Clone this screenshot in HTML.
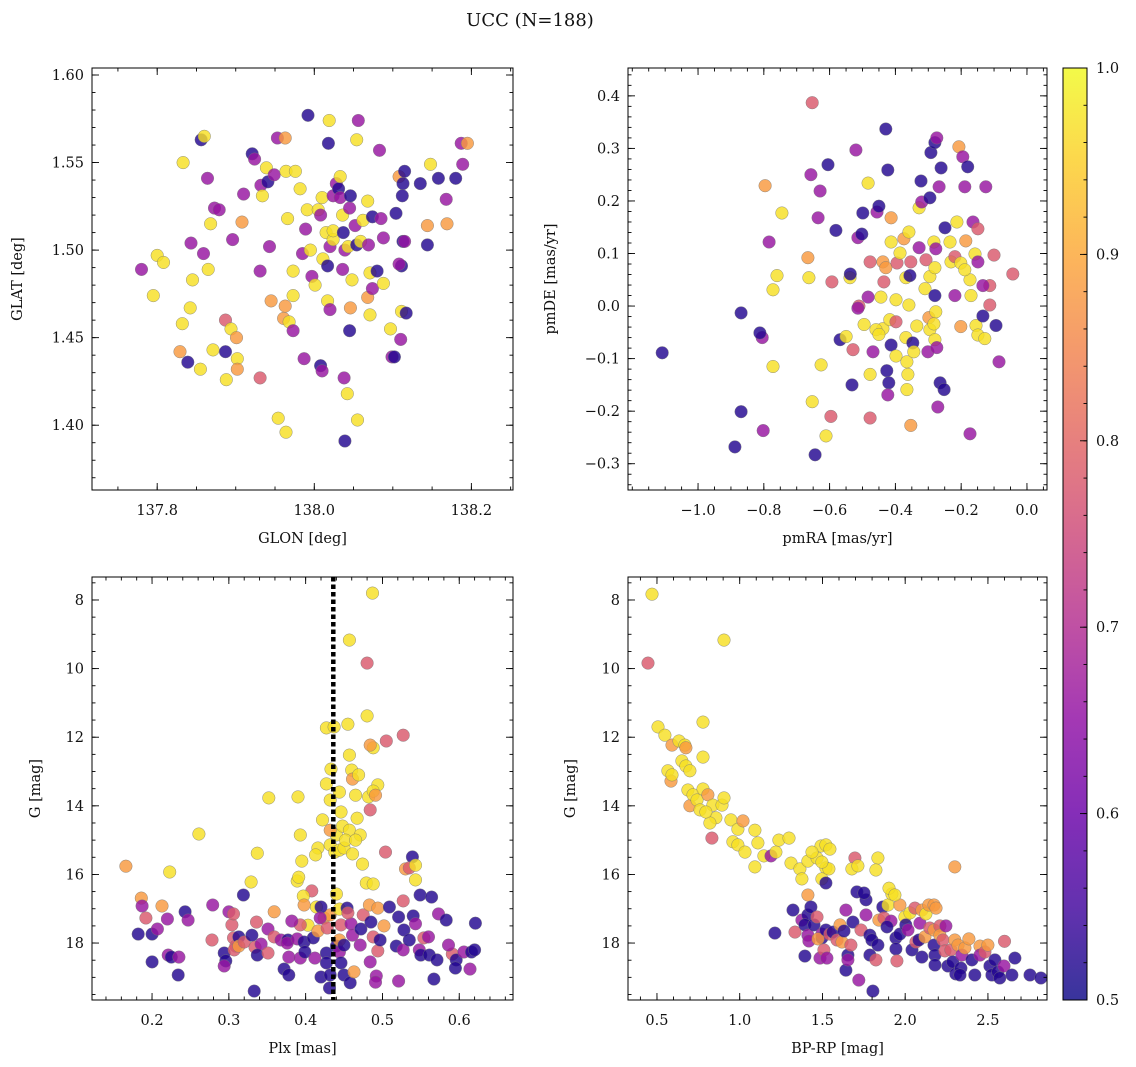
<!DOCTYPE html>
<html><head><meta charset="utf-8"><title>UCC (N=188)</title>
<style>
html,body{margin:0;padding:0;background:#fff;}
svg{display:block;font-family:"DejaVu Serif","Liberation Serif",serif;}
</style></head>
<body>
<svg id="fig" width="1136" height="1067" viewBox="0 0 1136 1067" xmlns="http://www.w3.org/2000/svg">
<text x="530" y="26" font-size="18" text-anchor="middle" fill="#111">UCC (N=188)</text>
</svg>
<script>
const b=0.52,m=0.66,s=0.78,o=0.88,y=0.97;
// Panel 1: [GLON, GLAT, prob]
const posPoints=[[137.780,1.489,m],[137.800,1.497,y],[137.808,1.493,y],[137.795,1.474,y],[137.833,1.550,y],[137.856,1.563,b],[137.860,1.565,y],[137.864,1.541,m],[137.843,1.504,m],[137.859,1.498,m],[137.865,1.489,y],[137.868,1.515,y],[137.873,1.524,m],[137.879,1.523,m],[137.845,1.483,y],[137.842,1.467,y],[137.832,1.458,y],[137.829,1.442,o],[137.839,1.436,b],[137.855,1.432,y],[137.871,1.443,y],[137.887,1.442,b],[137.888,1.426,y],[137.887,1.460,s],[137.894,1.455,y],[137.901,1.450,o],[137.902,1.438,y],[137.902,1.432,o],[137.896,1.506,m],[137.908,1.516,o],[137.910,1.532,m],[137.921,1.555,b],[137.924,1.552,m],[137.932,1.537,m],[137.934,1.531,y],[137.939,1.547,y],[137.941,1.539,b],[137.931,1.488,m],[137.943,1.502,m],[137.945,1.471,o],[137.931,1.427,s],[137.953,1.564,m],[137.963,1.564,o],[137.954,1.404,y],[137.964,1.396,y],[137.949,1.543,m],[137.964,1.545,y],[137.976,1.545,y],[137.966,1.518,y],[137.973,1.488,y],[137.973,1.474,y],[137.963,1.468,o],[137.961,1.461,o],[137.968,1.459,y],[137.973,1.454,m],[137.982,1.535,y],[137.985,1.498,m],[137.987,1.438,m],[137.992,1.577,b],[137.991,1.523,y],[137.989,1.512,m],[137.995,1.500,y],[137.997,1.485,m],[138.001,1.480,y],[138.005,1.523,y],[138.008,1.520,m],[138.010,1.530,y],[138.011,1.495,y],[138.008,1.434,b],[138.010,1.431,m],[138.015,1.510,y],[138.020,1.502,m],[138.019,1.574,y],[138.018,1.561,b],[138.024,1.506,y],[138.024,1.511,y],[138.017,1.491,b],[138.017,1.471,y],[138.020,1.466,m],[138.024,1.531,m],[138.028,1.538,m],[138.031,1.535,b],[138.033,1.542,y],[138.033,1.530,m],[138.037,1.510,b],[138.036,1.520,y],[138.039,1.500,m],[138.045,1.524,m],[138.046,1.531,b],[138.036,1.489,m],[138.043,1.502,y],[138.045,1.454,b],[138.046,1.467,o],[138.048,1.483,y],[138.054,1.503,b],[138.054,1.563,y],[138.056,1.574,m],[138.052,1.514,m],[138.059,1.505,y],[138.062,1.517,y],[138.068,1.528,y],[138.074,1.519,b],[138.069,1.503,m],[138.068,1.473,o],[138.071,1.463,y],[138.071,1.487,y],[138.074,1.478,m],[138.038,1.427,m],[138.042,1.418,y],[138.039,1.391,b],[138.055,1.403,y],[138.083,1.557,m],[138.085,1.518,m],[138.088,1.507,m],[138.080,1.488,b],[138.088,1.481,y],[138.097,1.455,y],[138.099,1.439,m],[138.102,1.439,b],[138.104,1.521,b],[138.108,1.542,o],[138.111,1.491,b],[138.113,1.505,b],[138.111,1.465,y],[138.110,1.449,m],[138.108,1.492,m],[138.113,1.538,b],[138.115,1.545,b],[138.112,1.531,b],[138.115,1.505,m],[138.117,1.464,b],[138.135,1.538,b],[138.144,1.514,o],[138.148,1.549,y],[138.158,1.541,b],[138.168,1.529,m],[138.169,1.515,o],[138.180,1.541,b],[138.187,1.561,m],[138.195,1.561,o],[138.144,1.503,b],[138.189,1.549,m]];
// Panel 2: [pmRA, pmDE, prob]
const pmPoints=[[-1.109,-0.089,b],[-0.869,-0.013,b],[-0.869,-0.201,b],[-0.888,-0.268,b],[-0.653,0.387,s],[-0.796,0.229,o],[-0.745,0.177,y],[-0.784,0.122,m],[-0.760,0.058,y],[-0.772,0.031,y],[-0.805,-0.060,m],[-0.812,-0.051,b],[-0.772,-0.115,y],[-0.802,-0.237,m],[-0.657,0.250,m],[-0.629,0.219,m],[-0.605,0.269,b],[-0.635,0.168,m],[-0.666,0.092,o],[-0.663,0.054,y],[-0.653,-0.182,y],[-0.626,-0.112,y],[-0.611,-0.247,y],[-0.644,-0.283,b],[-0.581,0.144,b],[-0.596,-0.210,s],[-0.593,0.046,s],[-0.568,-0.064,b],[-0.550,-0.058,y],[-0.538,0.054,y],[-0.537,0.061,b],[-0.520,0.297,m],[-0.514,0.130,m],[-0.511,0.0,s],[-0.529,-0.083,s],[-0.532,-0.150,b],[-0.514,-0.004,m],[-0.502,0.137,b],[-0.499,0.177,b],[-0.483,0.234,y],[-0.477,0.084,s],[-0.483,0.017,m],[-0.495,-0.035,y],[-0.477,-0.130,y],[-0.468,-0.087,m],[-0.477,-0.213,s],[-0.456,0.179,m],[-0.450,0.190,b],[-0.444,0.017,y],[-0.438,-0.043,y],[-0.459,-0.045,y],[-0.450,-0.054,y],[-0.438,0.084,o],[-0.429,0.073,o],[-0.435,0.046,s],[-0.429,0.337,b],[-0.423,0.259,b],[-0.413,0.168,o],[-0.413,0.122,y],[-0.417,-0.026,y],[-0.413,-0.074,b],[-0.426,-0.123,b],[-0.420,-0.146,b],[-0.423,-0.169,m],[-0.398,-0.095,y],[-0.395,0.082,s],[-0.398,0.012,y],[-0.398,-0.030,s],[-0.386,0.101,y],[-0.374,0.128,o],[-0.368,0.054,y],[-0.368,-0.060,y],[-0.365,-0.106,y],[-0.359,0.002,y],[-0.356,0.058,b],[-0.359,0.141,y],[-0.353,0.084,s],[-0.347,-0.070,b],[-0.362,-0.130,y],[-0.365,-0.159,y],[-0.353,-0.227,o],[-0.344,-0.087,y],[-0.335,-0.038,y],[-0.328,0.111,m],[-0.328,0.187,y],[-0.320,0.198,m],[-0.322,0.238,b],[-0.310,0.033,y],[-0.307,0.088,s],[-0.298,-0.022,o],[-0.295,-0.045,y],[-0.301,-0.087,m],[-0.295,0.056,y],[-0.295,0.206,b],[-0.292,0.292,b],[-0.280,0.311,b],[-0.274,0.320,m],[-0.283,0.122,y],[-0.277,0.109,m],[-0.280,0.073,y],[-0.280,0.020,b],[-0.277,-0.011,y],[-0.283,-0.034,y],[-0.280,-0.064,y],[-0.274,-0.079,m],[-0.264,-0.146,b],[-0.252,-0.159,b],[-0.271,-0.192,m],[-0.261,0.263,b],[-0.267,0.227,m],[-0.249,0.149,b],[-0.234,0.122,y],[-0.231,0.084,y],[-0.219,0.094,s],[-0.213,0.160,y],[-0.207,0.303,o],[-0.195,0.284,m],[-0.189,0.227,m],[-0.219,0.020,m],[-0.201,0.082,y],[-0.201,-0.039,o],[-0.186,0.124,o],[-0.180,0.265,b],[-0.173,0.050,y],[-0.170,0.020,y],[-0.173,-0.243,m],[-0.164,0.160,m],[-0.158,0.099,y],[-0.149,0.084,m],[-0.155,-0.037,y],[-0.149,-0.055,y],[-0.134,-0.019,b],[-0.128,-0.062,y],[-0.125,0.227,m],[-0.113,0.039,s],[-0.113,0.002,s],[-0.100,0.097,s],[-0.094,-0.037,b],[-0.085,-0.106,m],[-0.043,0.061,s],[-0.149,0.147,s],[-0.134,0.039,m],[-0.189,0.069,y]];
// Panel 3: [Plx, G, prob]
const plxPoints=[[0.487,7.80,y],[0.457,9.17,y],[0.480,9.84,s],[0.427,11.73,y],[0.437,11.70,y],[0.480,11.38,y],[0.488,12.31,y],[0.484,12.23,o],[0.527,11.94,s],[0.505,12.11,s],[0.455,11.62,y],[0.457,12.52,y],[0.460,12.96,y],[0.461,13.22,o],[0.465,13.69,y],[0.469,13.10,y],[0.482,13.74,y],[0.484,14.12,s],[0.494,13.39,y],[0.488,13.57,y],[0.491,13.69,o],[0.352,13.77,y],[0.390,13.74,y],[0.433,12.93,y],[0.427,13.36,y],[0.432,13.83,y],[0.444,13.60,y],[0.422,14.41,y],[0.440,14.85,y],[0.446,14.18,y],[0.448,14.59,y],[0.457,14.71,y],[0.467,14.36,y],[0.471,14.85,y],[0.432,15.14,y],[0.438,15.35,y],[0.416,15.23,y],[0.413,15.43,y],[0.444,15.29,y],[0.450,15.23,y],[0.461,15.40,y],[0.452,15.00,y],[0.465,15.00,y],[0.395,15.61,y],[0.393,14.85,y],[0.432,14.71,o],[0.389,16.19,y],[0.391,16.08,y],[0.408,16.48,s],[0.397,16.63,y],[0.403,17.48,y],[0.414,16.95,y],[0.424,17.27,o],[0.432,17.18,o],[0.440,16.57,y],[0.444,17.01,y],[0.474,15.70,y],[0.479,16.25,y],[0.488,16.28,y],[0.504,15.35,s],[0.539,15.49,b],[0.530,15.84,o],[0.535,15.81,s],[0.543,15.73,y],[0.543,16.16,y],[0.261,14.82,y],[0.166,15.76,o],[0.223,15.93,y],[0.337,15.38,y],[0.329,16.22,y],
[0.186,16.69,o],[0.187,16.92,m],[0.192,17.27,s],[0.182,17.74,b],[0.200,17.74,b],[0.200,18.55,b],[0.207,17.59,m],[0.213,16.92,o],[0.220,17.30,m],[0.221,18.35,m],[0.225,18.41,b],[0.235,18.41,m],[0.234,18.93,b],[0.243,17.09,b],[0.247,17.33,m],[0.279,16.89,m],[0.278,17.91,s],[0.294,18.29,b],[0.296,18.52,b],[0.294,18.67,m],[0.306,17.85,s],[0.309,18.09,s],[0.307,18.20,s],[0.313,17.82,b],[0.313,18.09,o],[0.320,17.97,s],[0.300,17.09,m],[0.304,17.47,s],[0.306,17.15,s],[0.333,19.40,b],[0.319,16.60,b],[0.330,17.77,b],[0.336,17.39,s],[0.334,18.12,s],[0.342,18.03,m],[0.337,18.35,b],[0.351,17.59,m],[0.359,17.09,o],[0.359,17.82,s],[0.351,18.29,s],[0.368,17.91,m],[0.377,17.91,b],[0.378,18.41,m],[0.376,18.00,m],[0.372,18.76,b],[0.378,18.93,b],[0.393,17.47,s],[0.398,16.89,o],[0.382,17.36,m],[0.389,17.88,m],[0.393,18.44,m],[0.398,17.97,b],[0.399,18.26,b],[0.410,17.85,b],[0.412,18.44,m],[0.416,17.65,o],[0.420,16.95,b],[0.419,17.27,m],[0.428,17.56,s],[0.420,18.99,b],[0.427,18.29,b],[0.427,18.58,b],[0.432,18.93,b],[0.440,18.09,b],[0.444,17.91,o],[0.444,18.26,m],[0.450,18.06,b],[0.446,18.58,b],[0.450,18.93,b],[0.446,17.47,s],[0.454,16.98,b],[0.459,17.44,m],[0.455,17.12,s],[0.461,17.77,m],[0.471,18.06,m],[0.472,17.59,b],[0.475,17.18,s],[0.483,16.89,o],[0.485,17.39,b],[0.488,17.82,s],[0.494,18.23,s],[0.484,18.55,m],[0.492,18.96,m],[0.494,16.98,o],[0.497,17.91,b],[0.502,17.50,o],[0.509,16.95,b],[0.518,18.09,b],[0.521,17.24,b],[0.527,18.20,m],[0.528,17.62,b],[0.535,17.91,b],[0.540,17.21,b],[0.543,17.44,m],[0.548,18.20,m],[0.550,18.35,b],[0.549,16.60,b],[0.554,17.85,s],[0.560,17.82,m],[0.561,18.35,b],[0.564,16.66,b],[0.571,18.49,b],[0.573,17.15,m],[0.583,17.33,b],[0.591,18.32,s],[0.596,18.49,b],[0.595,18.73,b],[0.606,18.26,m],[0.616,18.26,b],[0.621,17.42,b],[0.614,18.76,m],[0.620,18.20,b],[0.586,18.06,m],[0.521,19.11,m],[0.491,19.14,m],[0.458,19.16,b],[0.567,19.05,b],[0.463,18.84,o],[0.431,19.31,b],[0.527,16.77,s]];
// Panel 4: [BP-RP, G, prob]
const cmdPoints=[[0.470,7.83,y],[0.446,9.84,s],[0.905,9.17,y],[0.506,11.70,y],[0.548,11.94,y],[0.591,12.23,o],[0.566,12.98,y],[0.585,13.28,o],[0.591,13.10,y],[0.633,12.11,y],[0.669,12.23,y],[0.675,12.31,o],[0.651,12.69,y],[0.675,12.84,y],[0.699,12.98,y],[0.778,11.56,y],[0.778,12.58,y],[0.699,14.00,o],[0.687,13.54,y],[0.718,13.68,y],[0.742,13.83,y],[0.778,13.51,y],[0.808,13.68,o],[0.760,14.12,y],[0.838,13.98,y],[0.856,14.35,y],[0.820,14.50,y],[0.796,14.18,y],[0.893,13.98,y],[0.905,13.77,y],[0.947,14.41,y],[0.832,14.94,s],[0.959,15.05,y],[0.989,14.68,y],[1.020,14.44,o],[0.989,15.14,y],[1.032,15.35,y],[1.092,14.71,y],[1.092,15.78,y],[1.110,15.08,y],[1.146,15.46,y],[1.189,15.46,m],[1.219,15.35,y],[1.237,15.00,y],[1.310,15.67,y],[1.298,14.94,y],[1.364,15.84,y],[1.376,16.13,y],[1.412,15.61,y],[1.467,15.52,y],[1.491,15.17,y],[1.521,15.81,y],[1.497,16.13,y],[1.539,15.84,y],[1.521,15.14,y],[1.545,15.26,y],[1.497,15.64,y],[1.437,15.35,y],
[1.213,17.71,b],[1.322,17.04,b],[1.334,17.68,s],[1.376,17.33,m],[1.412,17.18,b],[1.394,17.47,b],[1.412,17.77,m],[1.418,17.94,m],[1.394,18.38,b],[1.412,16.60,o],[1.430,16.95,b],[1.449,17.47,b],[1.467,17.24,s],[1.497,17.85,b],[1.485,18.44,m],[1.497,17.74,m],[1.473,17.88,o],[1.521,17.62,b],[1.509,18.20,s],[1.521,16.25,b],[1.527,18.44,m],[1.545,17.74,s],[1.563,17.68,b],[1.588,17.91,s],[1.606,17.47,o],[1.618,17.97,o],[1.630,17.65,b],[1.642,17.04,m],[1.654,18.35,b],[1.642,18.79,b],[1.654,18.49,m],[1.672,18.06,s],[1.684,17.39,b],[1.696,15.52,s],[1.678,15.84,y],[1.714,15.75,y],[1.708,16.51,b],[1.733,17.62,s],[1.763,16.74,b],[1.763,17.18,m],[1.787,17.77,b],[1.799,17.91,b],[1.787,18.35,b],[1.835,18.06,b],[1.823,18.49,s],[1.841,17.33,o],[1.805,19.40,b],[1.720,19.08,m],[1.865,16.95,b],[1.872,17.27,s],[1.896,16.89,y],[1.914,17.36,m],[1.920,16.57,y],[1.890,17.53,b],[1.944,17.85,b],[1.944,18.17,b],[1.950,18.52,s],[1.968,16.89,o],[1.968,17.74,b],[1.998,17.24,y],[2.004,17.47,b],[2.017,17.62,m],[2.029,17.12,y],[2.041,18.20,b],[2.059,16.98,s],[2.065,17.97,s],[2.083,17.91,b],[2.089,17.42,m],[2.101,17.04,o],[2.119,17.82,o],[2.101,18.41,b],[2.125,17.15,y],[2.143,16.89,o],[2.149,17.56,s],[2.174,16.89,o],[2.174,17.62,o],[2.174,18.06,b],[2.180,18.35,b],[2.180,18.64,b],[2.186,16.98,o],[2.210,17.50,s],[2.210,17.77,o],[2.228,17.91,s],[2.240,18.23,s],[2.246,17.50,m],[2.276,18.20,s],[2.258,18.67,b],[2.288,18.55,b],[2.300,17.91,o],[2.306,18.90,b],[2.319,18.06,o],[2.343,18.35,m],[2.361,18.14,o],[2.337,18.73,b],[2.331,18.93,b],[2.385,17.88,o],[2.403,18.49,b],[2.421,18.93,b],[2.452,18.09,o],[2.452,18.35,m],[2.482,18.26,s],[2.500,18.06,o],[2.512,18.67,b],[2.524,18.93,b],[2.542,18.49,b],[2.560,18.84,b],[2.572,19.02,b],[2.597,18.67,m],[2.663,18.44,b],[2.645,18.93,b],[2.754,18.93,b],[2.300,15.78,o],[1.835,15.52,y],[1.823,15.87,y],[1.902,16.40,y],[1.938,16.60,y],[1.751,16.54,b],[2.820,19.02,b],[2.600,17.95,s]];
const plxMedian=0.436;
const ticks1x=[137.8,138.0,138.2], ticks1y=[1.40,1.45,1.50,1.55,1.60];
const ticks2x=[-1.0,-0.8,-0.6,-0.4,-0.2,0.0], ticks2y=[-0.3,-0.2,-0.1,0.0,0.1,0.2,0.3,0.4];
const ticks3x=[0.2,0.3,0.4,0.5,0.6], ticksG=[8,10,12,14,16,18];
const ticks4x=[0.5,1.0,1.5,2.0,2.5];
const cbTicks=[0.5,0.6,0.7,0.8,0.9,1.0];

const NS="http://www.w3.org/2000/svg";
const svg=document.getElementById('fig');
function el(tag,attrs,parent){const e=document.createElementNS(NS,tag);for(const k in attrs)e.setAttribute(k,attrs[k]);(parent||svg).appendChild(e);return e;}
const stops=[[13,8,135],[65,4,157],[106,0,168],[143,13,164],[177,42,144],[204,71,120],[225,100,98],[242,132,75],[252,166,54],[252,206,37],[240,249,33]];
function plasma(v){let t=Math.max(0,Math.min(1,(v-0.5)/0.5))*10;const i=Math.min(9,Math.floor(t)),f=t-i;const a=stops[i],c=stops[i+1];return 'rgb('+[0,1,2].map(k=>Math.round(a[k]+(c[k]-a[k])*f)).join(',')+')';}
function range(a,b,st){const r=[];for(let v=a;v<=b+1e-9;v+=st)r.push(+v.toFixed(6));return r;}

function panel(name,box,xd,yd,pts,xt,xmin,yt,ymin,fx,fy,xlabel,ylabel,ylabX){
  const g=el('g',{},svg);
  
  
  const sx=v=>box.l+(v-xd[0])/(xd[1]-xd[0])*(box.r-box.l);
  const sy=v=>box.t+(v-yd[0])/(yd[1]-yd[0])*(box.b-box.t);
  const pg=el('g',{},g);
  
  
  pts.forEach(p=>{
    const c=el('circle',{cx:sx(p[0]).toFixed(1),cy:sy(p[1]).toFixed(1),r:6.3,fill:plasma(p[2]),'fill-opacity':0.82,stroke:'#777','stroke-width':0.4},pg);
    
    
  });
  const fr=el('rect',{x:box.l,y:box.t,width:box.r-box.l,height:box.b-box.t,fill:'none',stroke:'#000','stroke-width':1},g);
  
  
  const tk=el('g',{stroke:'#000','stroke-width':0.9},g);
  
  
  const xlo=Math.min(...xd),xhi=Math.max(...xd),ylo=Math.min(...yd),yhi=Math.max(...yd);
  function xtick(v,len){const x=sx(v);el('line',{x1:x,x2:x,y1:box.b,y2:box.b-len},tk);el('line',{x1:x,x2:x,y1:box.t,y2:box.t+len},tk);}
  function ytick(v,len){const yy=sy(v);el('line',{x1:box.l,x2:box.l+len,y1:yy,y2:yy},tk);el('line',{x1:box.r,x2:box.r-len,y1:yy,y2:yy},tk);}
  range(Math.ceil(xlo/xmin)*xmin,xhi,xmin).forEach(v=>xtick(v,3.5));
  range(Math.ceil(ylo/ymin)*ymin,yhi,ymin).forEach(v=>ytick(v,3.5));
  xt.forEach(v=>{xtick(v,7);const t=el('text',{x:sx(v),y:box.b+25,'font-size':14.5,'text-anchor':'middle',fill:'#111'},g);t.textContent=fx(v);
    
    });
  yt.forEach(v=>{ytick(v,7);const t=el('text',{x:box.l-8,y:sy(v)+5,'font-size':14.5,'text-anchor':'end',fill:'#111'},g);t.textContent=fy(v);
    
    });
  const xl=el('text',{x:(box.l+box.r)/2,y:box.b+53,'font-size':14.5,'text-anchor':'middle',fill:'#111'},g);xl.textContent=xlabel;
  
  
  const cy=(box.t+box.b)/2;
  const yl=el('text',{x:ylabX,y:cy,'font-size':14.5,'text-anchor':'middle',fill:'#111',transform:'rotate(-90 '+ylabX+' '+cy+')'},g);yl.textContent=ylabel;
  
  
  return {sx,sy,g};
}
const f1=v=>v.toFixed(1),f2=v=>v.toFixed(2);
const fm=v=>(v<0?'\u2212':'')+Math.abs(v).toFixed(1);
panel('position-panel',{l:92,t:68,r:513,b:490},[137.717,138.253],[1.604,1.363],posPoints,ticks1x,0.05,ticks1y,0.01,f1,f2,'GLON [deg]','GLAT [deg]',22);
panel('proper-motion-panel',{l:628,t:68,r:1047,b:490},[-1.213,0.061],[0.453,-0.350],pmPoints,ticks2x,0.05,ticks2y,0.02,fm,fm,'pmRA [mas/yr]','pmDE [mas/yr]',555);
const p3=panel('parallax-panel',{l:92,t:577,r:513,b:1000},[0.1218,0.670],[7.33,19.66],plxPoints,ticks3x,0.02,ticksG,0.5,f1,v=>String(v),'Plx [mas]','G [mag]',40);
panel('cmd-panel',{l:628,t:577,r:1047,b:1000},[0.325,2.857],[7.33,19.66],cmdPoints,ticks4x,0.1,ticksG,0.5,f1,v=>String(v),'BP-RP [mag]','G [mag]',575);
const ml=el('line',{x1:p3.sx(plxMedian),x2:p3.sx(plxMedian),y1:577,y2:1000,stroke:'#000','stroke-width':4.5,'stroke-dasharray':'4.5,3'},p3.g);



// colorbar
const defs=el('defs',{});
const lg=el('linearGradient',{id:'cbg',x1:0,y1:1,x2:0,y2:0},defs);
for(let i=0;i<=20;i++){el('stop',{offset:(i/20),'stop-color':plasma(0.5+i/40),'stop-opacity':0.82},lg);}
const cb=el('g',{});


const cT=68,cB=1000,cL=1063,cR=1087;
el('rect',{x:cL,y:cT,width:cR-cL,height:cB-cT,fill:'url(#cbg)',stroke:'#000','stroke-width':1},cb);
const cy=v=>cB-(v-0.5)/0.5*(cB-cT);
range(0.5,1.0,0.02).forEach(v=>el('line',{x1:cR,x2:cR-3.5,y1:cy(v),y2:cy(v),stroke:'#000','stroke-width':0.9},cb));
cbTicks.forEach(v=>{el('line',{x1:cR,x2:cR-7,y1:cy(v),y2:cy(v),stroke:'#000','stroke-width':0.9},cb);
  const t=el('text',{x:cR+9,y:cy(v)+5,'font-size':14.5,fill:'#111'},cb);t.textContent=v.toFixed(1);
  
  });
</script>
</body></html>
